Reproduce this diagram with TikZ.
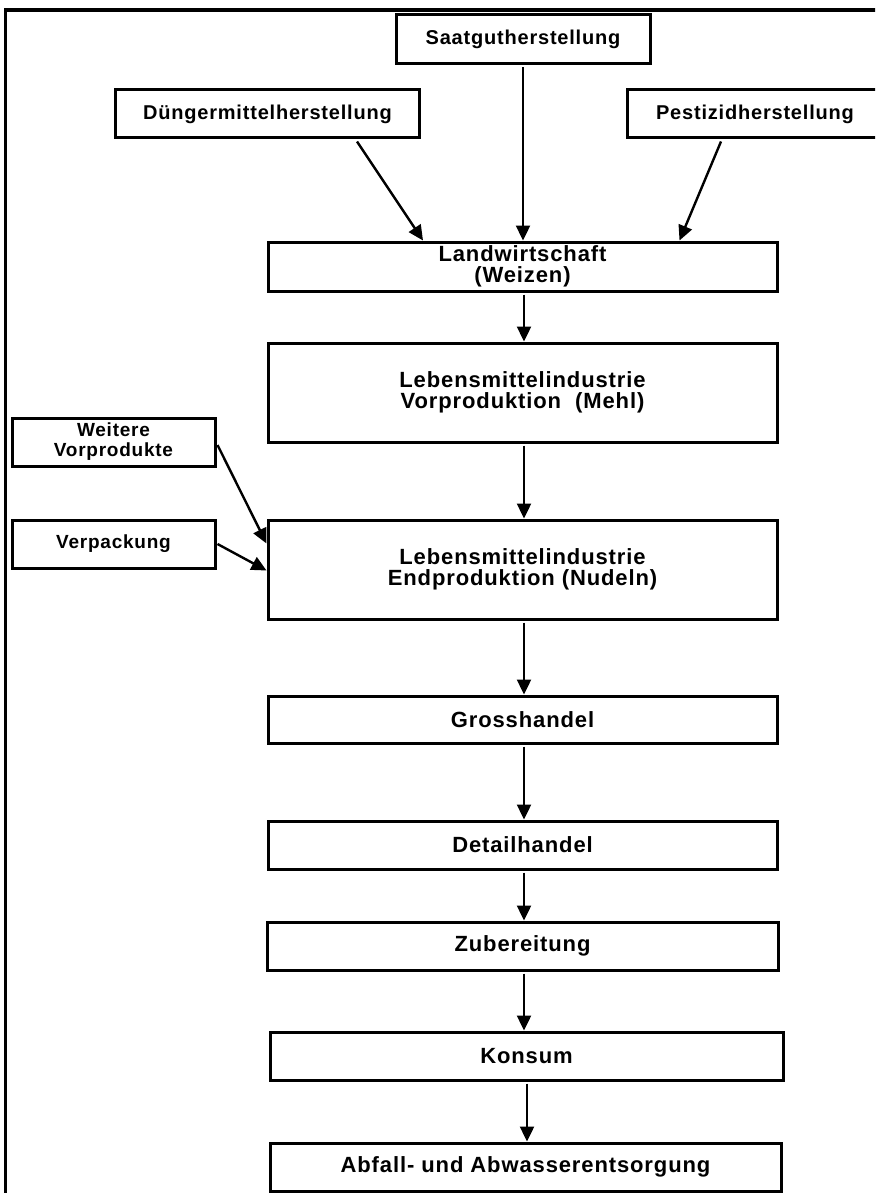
\documentclass[tikz,border=0pt]{standalone}
\usepackage{fontspec}
\setmainfont{Liberation Sans}[LetterSpace=4]
\usetikzlibrary{arrows.meta,calc}
\tikzset{
  box/.style={draw, line width=3pt, rectangle, inner sep=2pt, align=center,
    font=\bfseries\fontsize{22}{21}\selectfont},
  topbox/.style={box, font=\bfseries\fontsize{20}{20}\selectfont},
  sidebox/.style={box, font=\bfseries\fontsize{19}{20}\selectfont},
  flow/.style={line width=2.4pt, -{Triangle[length=15pt,width=14pt]}},
  frameline/.style={line width=3.5pt},
}
\begin{document}
\begin{tikzpicture}[x=1pt,y=-1pt]
\clip (0,0) rectangle (875,1193);
\fill[white] (0,0) rectangle (875,1193);
\draw[frameline] (5.5,1200) -- (5.5,10) -- (885,10);

\node[topbox, minimum width=254pt, minimum height=49pt] (saat) at (523,39.5) {Saatgutherstellung};
\node[topbox, minimum width=304pt, minimum height=48pt] (dung) at (267.5,114) {Düngermittelherstellung};
\node[topbox, minimum width=256pt, minimum height=48pt] (pest) at (755,114) {Pestizidherstellung};
\node[box, minimum width=509pt, minimum height=49pt] (landw) at (522.5,266.5) {Landwirtschaft\\(Weizen)};
\node[box, minimum width=509pt, minimum height=99pt] (vorprod) at (522.5,392.5) {Lebensmittelindustrie\\Vorproduktion\ \ (Mehl)};
\node[sidebox, minimum width=203pt, minimum height=48pt] (weitere) at (113.5,442) {Weitere\\Vorprodukte};
\node[sidebox, minimum width=203pt, minimum height=48pt] (verpack) at (113.5,544) {Verpackung};
\node[box, minimum width=509pt, minimum height=99pt] (endprod) at (522.5,569.5) {Lebensmittelindustrie\\Endproduktion (Nudeln)};
\node[box, minimum width=509pt, minimum height=47pt] (gross) at (522.5,719.5) {Grosshandel};
\node[box, minimum width=509pt, minimum height=48pt] (detail) at (522.5,845) {Detailhandel};
\node[box, minimum width=511pt, minimum height=48pt] (zuber) at (522.5,946) {Zubereitung};
\node[box, minimum width=513pt, minimum height=48pt] (konsum) at (526.5,1056) {Konsum};
\node[box, minimum width=511pt, minimum height=48pt] (abfall) at (525.5,1167) {Abfall- und Abwasserentsorgung};

\draw[flow] ([xshift=89.5pt,yshift=-2pt]dung.south) -- ([xshift=-99.5pt]landw.north);
\draw[flow] ([yshift=-2pt]saat.south) -- (saat.south |- landw.north);
\draw[flow] ([xshift=-34pt,yshift=-2pt]pest.south) -- ([xshift=157pt]landw.north);
\draw[flow] ([xshift=1.5pt,yshift=-2pt]landw.south) -- ([xshift=1.5pt]vorprod.north);
\draw[flow] ([xshift=1.5pt,yshift=-2pt]vorprod.south) -- ([xshift=1.5pt]endprod.north);
\draw[flow] ([xshift=1pt,yshift=-3pt]weitere.east) -- ([yshift=26pt]endprod.west);
\draw[flow] ([xshift=1pt]verpack.east) -- ([yshift=-1pt]endprod.west);
\draw[flow] ([xshift=1.5pt,yshift=-2pt]endprod.south) -- ([xshift=1.5pt]gross.north);
\draw[flow] ([xshift=1.5pt,yshift=-2pt]gross.south) -- ([xshift=1.5pt]detail.north);
\draw[flow] ([xshift=1.5pt,yshift=-2pt]detail.south) -- ([xshift=1.5pt]zuber.north);
\draw[flow] ([xshift=1.5pt,yshift=-2pt]zuber.south) -- ([xshift=1.5pt]zuber.south |- konsum.north);
\draw[flow] ([xshift=0.5pt,yshift=-2pt]konsum.south) -- ([xshift=0.5pt]konsum.south |- abfall.north);
\end{tikzpicture}
\end{document}
